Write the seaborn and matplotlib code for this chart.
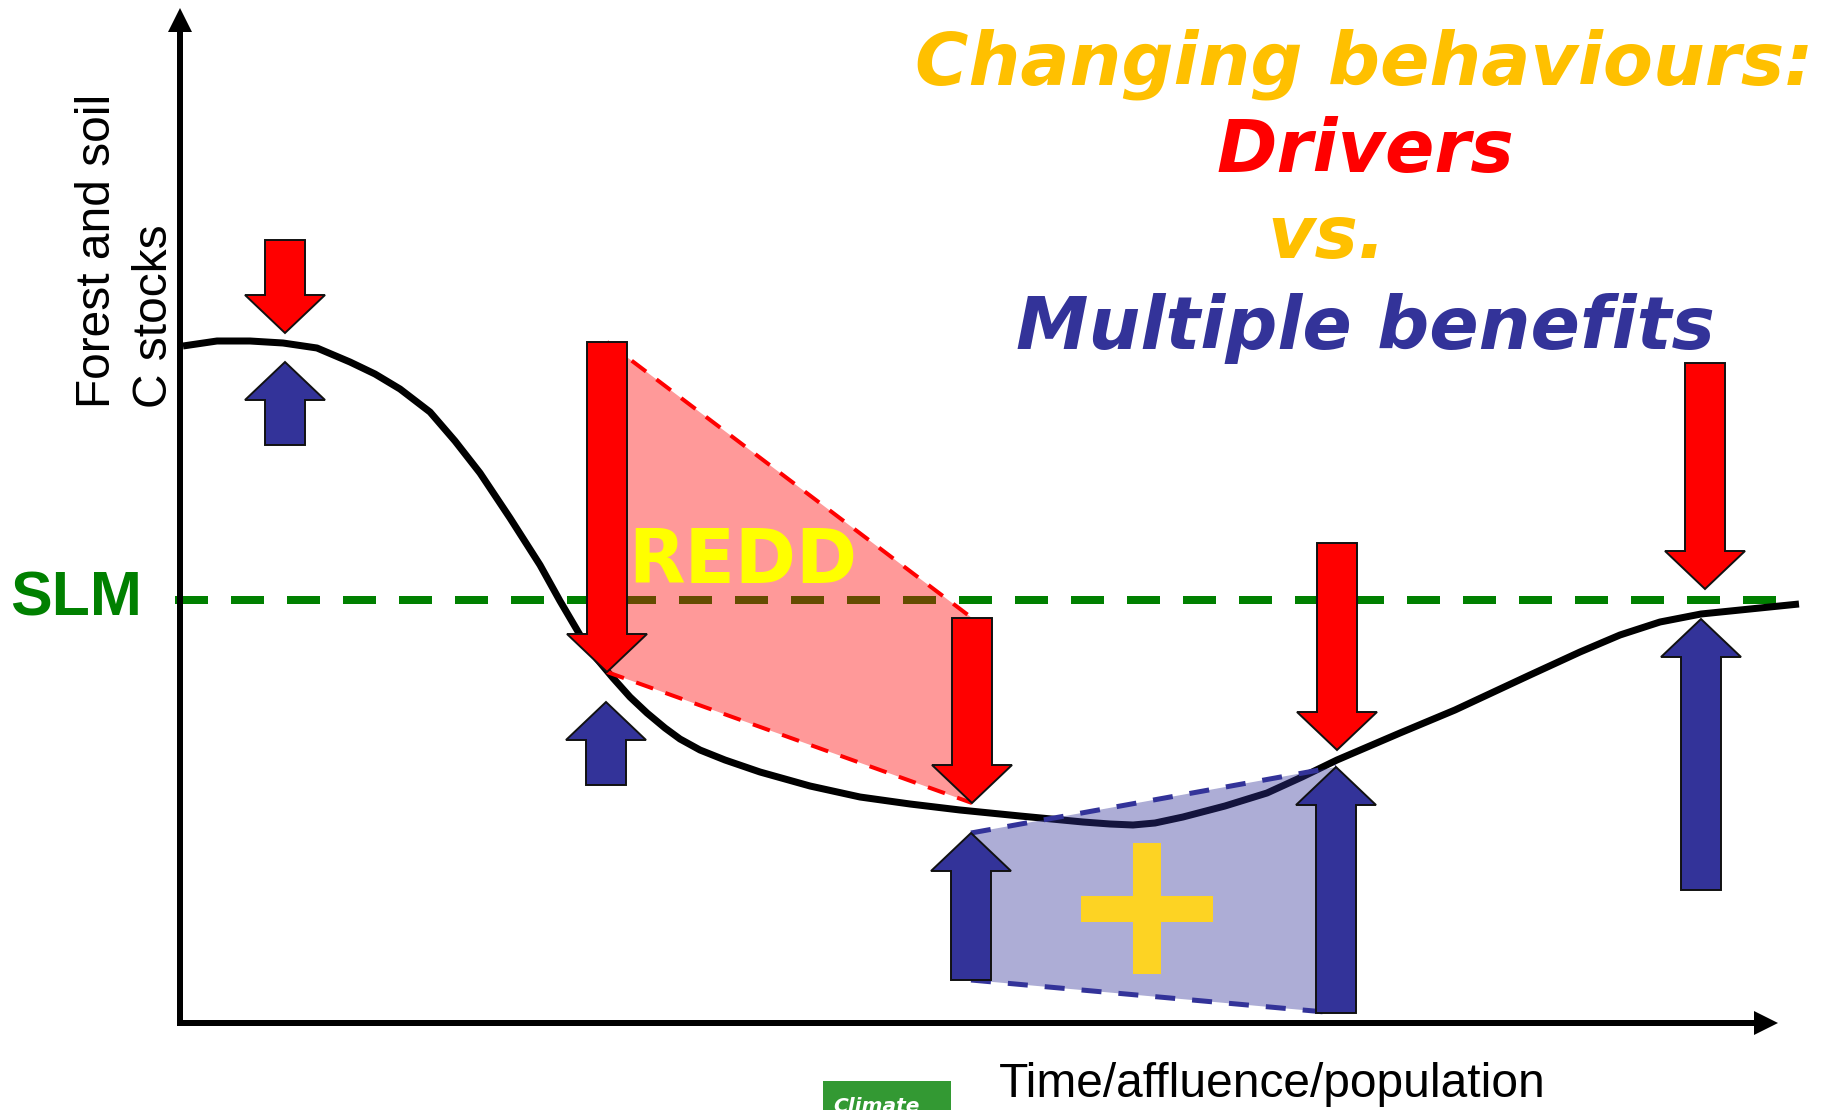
import matplotlib
matplotlib.use("Agg")
import matplotlib.pyplot as plt
from matplotlib.patches import FancyArrow, Polygon, Rectangle
import pandas as pd
import seaborn as sns

# Forest and soil carbon stock along time/affluence/population
curve_x = [3, 37, 70, 103, 137, 170, 195, 220, 250, 275, 300, 330, 360, 380,
           400, 417, 433, 450, 467, 485, 500, 520, 545, 580, 630, 680, 730,
           780, 840, 903, 930, 953, 975, 1003, 1045, 1087, 1122, 1157, 1220,
           1275, 1350, 1400, 1440, 1480, 1521, 1570, 1619]
curve_y = [677, 682, 682, 680, 675, 661, 649, 634, 611, 582, 550, 505, 458, 422,
           388, 364, 345, 326, 310, 295, 284, 273, 263, 251, 237, 226, 219,
           213, 207, 201, 199, 198, 200, 206, 217, 230, 246, 263, 290,
           313, 348, 371, 388, 401, 409, 414, 419]

# Sustainable land management reference level
slm_level = 423

# Drivers (downward arrows): position, tail, tip
driver_x = [105, 427, 792, 1157, 1525]
driver_tail = [783, 681, 405, 480, 660]
driver_tip = [690, 351, 220, 273, 434]

# Multiple benefits (upward arrows): position, tail, tip
benefit_x = [105, 426, 791, 1156, 1521]
benefit_tail = [578, 238, 43, 10, 133]
benefit_tip = [661, 321, 190, 256, 404]

title_lines = ["Changing behaviours:", "Drivers", "vs.", "Multiple benefits"]
title_colors = ["#FFC000", "#FF0000", "#FFC000", "#333399"]
title_x = [1184, 1185, 1147, 1185]
title_y = [939, 851, 765, 674]

RED = "#FF0000"
BLUE = "#333399"
PX = 0.72  # points per pixel at 100 dpi

sns.set_theme(style="white")
plt.rcParams["font.family"] = ["DejaVu Sans"]
plt.rcParams["lines.scale_dashes"] = False

fig = plt.figure(figsize=(18.25, 11.1), dpi=100)
ax = fig.add_axes([0, 0, 1, 1])

# carbon stock trajectory
df = pd.DataFrame({"time": curve_x, "stock": curve_y})
sns.lineplot(data=df, x="time", y="stock", sort=False, color="black",
             lw=7 * PX, ax=ax, zorder=2)
ax.lines[-1].set_solid_capstyle("butt")
ax.lines[-1].set_solid_joinstyle("round")
ax.set_xlim(-180, 1645)
ax.set_ylim(-87, 1023)
ax.axis("off")

# axes with arrow heads
ax.add_patch(FancyArrow(-3, 0, 1601, 0, width=6, head_width=24, head_length=24,
                        length_includes_head=True, color="black", lw=0, zorder=6))
ax.add_patch(FancyArrow(0, -3, 0, 1018, width=6, head_width=24, head_length=24,
                        length_includes_head=True, color="black", lw=0, zorder=6))

# SLM level
ax.plot([-5, 1596], [slm_level, slm_level], color="#008000", lw=8 * PX,
        dashes=(33 * PX, 23 * PX), solid_capstyle="butt", zorder=1)

# REDD zone between the second and third drivers
red_zone = [(driver_x[1], driver_tail[1]), (driver_x[2], driver_tail[2]),
            (driver_x[2], driver_tip[2]), (driver_x[1], driver_tip[1])]
ax.add_patch(Polygon(red_zone, closed=True, facecolor=RED, alpha=0.4, lw=0, zorder=3))
for a, b in [(red_zone[0], red_zone[1]), (red_zone[3], red_zone[2])]:
    ax.plot([a[0], b[0]], [a[1], b[1]], color=RED, lw=4 * PX,
            dashes=(18 * PX, 13 * PX), zorder=3.5)

# benefit zone between the third and fourth benefit arrows
blue_zone = [(benefit_x[2], benefit_tip[2]), (benefit_x[3], benefit_tip[3]),
             (benefit_x[3], benefit_tail[3]), (benefit_x[2], benefit_tail[2])]
ax.add_patch(Polygon(blue_zone, closed=True, facecolor=BLUE, alpha=0.4, lw=0, zorder=3))
for a, b in [(blue_zone[0], blue_zone[1]), (blue_zone[3], blue_zone[2])]:
    ax.plot([a[0], b[0]], [a[1], b[1]], color=BLUE, lw=5 * PX,
            dashes=(20 * PX, 17 * PX), zorder=3.5)

# block arrows
def block_arrow(x, tail, tip, color):
    ax.add_patch(FancyArrow(x, tail, 0, tip - tail, width=40, head_width=80,
                            head_length=38, length_includes_head=True,
                            facecolor=color, edgecolor="#111111", lw=1.4, zorder=4))

for x, t0, t1 in zip(driver_x, driver_tail, driver_tip):
    block_arrow(x, t0, t1, RED)
for x, t0, t1 in zip(benefit_x, benefit_tail, benefit_tip):
    block_arrow(x, t0, t1, BLUE)

# zone labels
ax.text(448, 440, "REDD", color="#FFFF00", fontsize=53, fontweight="bold",
        ha="left", va="baseline", zorder=5)
plus_color = "#FDD323"
ax.add_patch(Rectangle((953, 49), 28, 131, facecolor=plus_color, lw=0, zorder=5))
ax.add_patch(Rectangle((901, 101), 132, 26, facecolor=plus_color, lw=0, zorder=5))

# title block
for txt, c, x, y in zip(title_lines, title_colors, title_x, title_y):
    ax.text(x, y, txt, color=c, fontsize=52.5, fontweight="bold", style="italic",
            ha="center", va="baseline", zorder=5)

# axis labels
ax.text(-170, 408, "SLM", color="#008000", fontsize=45, fontweight="bold",
        family="Liberation Sans", ha="left", va="baseline")
ax.text(-70, 615, "Forest and soil", fontsize=34.5, family="Liberation Sans",
        rotation=90, rotation_mode="anchor", ha="left", va="baseline", color="black")
ax.text(-13, 615, "C stocks", fontsize=34.5, family="Liberation Sans",
        rotation=90, rotation_mode="anchor", ha="left", va="baseline", color="black")
ax.text(819, -74, "Time/affluence/population", fontsize=34.5,
        family="Liberation Sans", ha="left", va="baseline", color="black")

# small tag at the bottom edge
ax.add_patch(Rectangle((643, -120), 128, 62, facecolor="#339933", lw=0, zorder=5))
ax.text(653, -74, "Climate", color="white", fontsize=14.5, fontweight="bold",
        style="italic", ha="left", va="top", zorder=6)

fig.savefig("out.png", dpi=100)
